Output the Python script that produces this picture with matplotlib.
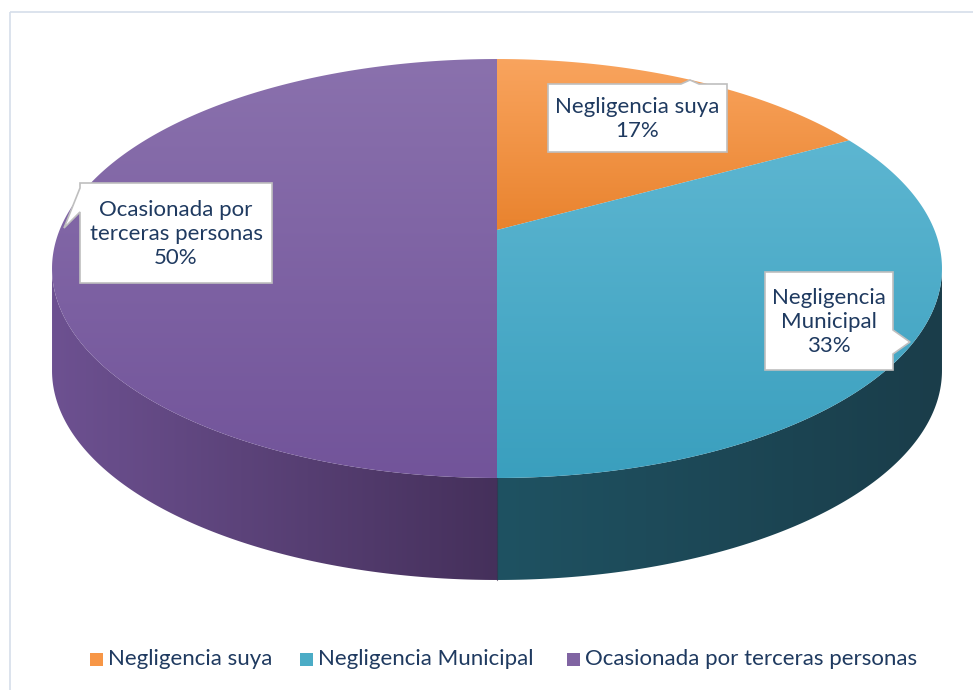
import numpy as np
import matplotlib
matplotlib.use("Agg")
import matplotlib.pyplot as plt
from matplotlib.patches import Polygon, Rectangle
from matplotlib.colors import to_rgb

categories = ["Negligencia suya", "Negligencia Municipal", "Ocasionada por terceras personas"]
values = [17, 33, 50]
label_texts = ["Negligencia suya\n17%", "Negligencia\nMunicipal\n33%", "Ocasionada por\nterceras personas\n50%"]

top_colors = [("#F9A45E", "#E9832E"), ("#5DB6D1", "#3A9FBE"), ("#8A71AD", "#72549A")]
side_colors = [("#B8651E", "#9A5418"), ("#1F5262", "#1A3D4A"), ("#6D5191", "#45305B")]
legend_colors = ["#F79646", "#4BACC6", "#8064A2"]
text_color = "#1F3A60"
FONT = "Lato"

W, H = 973, 690
fig = plt.figure(figsize=(W / 100, H / 100), dpi=100)
ax = fig.add_axes([0, 0, 1, 1])
ax.set_xlim(0, W)
ax.set_ylim(H, 0)
ax.axis("off")

# border
ax.add_patch(Rectangle((9.5, 11.5), 980, 700, fill=False, ec="#D6DEEA", lw=1.2))

# projection of a tilted disk with perspective
cx, cy = 497, 230
k = 0.1838
A, B = 437.4, 202.4
depth = 102


def proj(t_deg, z=0.0):
    t = np.radians(t_deg)
    X, Y = np.cos(t), np.sin(t)
    w = 1 + k * Y
    return np.column_stack([cx + A * X / w, cy - B * Y / w + depth * z])


def grad_img(c1, c2, vertical=True):
    n = 256
    a = np.linspace(0, 1, n)
    c1, c2 = np.array(to_rgb(c1)), np.array(to_rgb(c2))
    col = c1[None, :] * (1 - a[:, None]) + c2[None, :] * a[:, None]
    return col[:, None, :] if vertical else col[None, :, :]


def fill_gradient(verts, c1, c2, vertical=True, zorder=2):
    poly = Polygon(verts, closed=True, fc="none", ec="none")
    ax.add_patch(poly)
    xmin, ymin = verts.min(axis=0)
    xmax, ymax = verts.max(axis=0)
    img = grad_img(c1, c2, vertical)
    im = ax.imshow(img, extent=[xmin, xmax, ymax, ymin], aspect="auto",
                   interpolation="bilinear", zorder=zorder)
    im.set_clip_path(poly)


# wedge angles (clockwise from 12 o'clock)
total = sum(values)
starts, ends = [], []
ang = 90.0
for v in values:
    starts.append(ang)
    ang -= 360.0 * v / total
    ends.append(ang)

# visible front side: between horizontal extremes
t_left = 180 + np.degrees(np.arcsin(k))
t_right = 360 - np.degrees(np.arcsin(k))

for i in range(len(values)):
    a0, a1 = ends[i] % 360, starts[i] % 360
    if a1 <= a0:
        a1 += 360
    lo = max(a0, t_left)
    hi = min(a1, t_right)
    if hi - lo <= 0.01:
        lo = max(a0 - 360, t_left)
        hi = min(a1 - 360, t_right)
        if hi - lo <= 0.01:
            continue
    ts = np.linspace(lo, hi, 200)
    top = proj(ts)
    bot = proj(ts[::-1], 1)
    verts = np.vstack([top, bot])
    fill_gradient(verts, side_colors[i][0], side_colors[i][1], vertical=False, zorder=2)

# top faces
for i in range(len(values)):
    ts = np.linspace(starts[i], ends[i], 300)
    arc = proj(ts)
    verts = np.vstack([[cx, cy], arc])
    fill_gradient(verts, top_colors[i][0], top_colors[i][1], vertical=True, zorder=3)

ax.plot([cx, cx], [proj([270])[0, 1], proj([270], 1)[0, 1]], color="#3A2A4A", lw=0.8, zorder=2.5, alpha=0.6)


def callout(x0, y0, x1, y1, ptr, side, text):
    tx, ty, b0, b1 = ptr
    if side == "top":
        verts = [(x0, y0), (b0, y0), (tx, ty), (b1, y0), (x1, y0), (x1, y1), (x0, y1)]
    elif side == "left":
        verts = [(x0, y0), (x1, y0), (x1, y1), (x0, y1), (x0, b1), (tx, ty), (x0, b0)]
    else:
        verts = [(x0, y0), (x1, y0), (x1, b0), (tx, ty), (x1, b1), (x1, y1), (x0, y1)]
    ax.add_patch(Polygon(verts, closed=True, fc="white", ec="#BFBFBF", lw=1.2, zorder=5))
    ax.text((x0 + x1) / 2, (y0 + y1) / 2 + 1, text, ha="center", va="center",
            fontsize=16, family=FONT, color=text_color, linespacing=1.22, zorder=6)


callout(548, 84, 727, 152, (690, 80, 681, 699), "top", label_texts[0])
callout(765, 272, 893, 370, (910, 342, 330, 354), "right", label_texts[1])
callout(80, 183, 272, 283, (64, 228, 188, 212), "left", label_texts[2])

# legend
leg_x = [90, 300, 567]
for i, c in enumerate(categories):
    ax.add_patch(Rectangle((leg_x[i], 653), 13, 13, fc=legend_colors[i], ec="none", zorder=5))
    ax.text(leg_x[i] + 18, 659, c, ha="left", va="center", fontsize=16, family=FONT,
            color=text_color, zorder=6)

fig.savefig("out.png", dpi=100)
